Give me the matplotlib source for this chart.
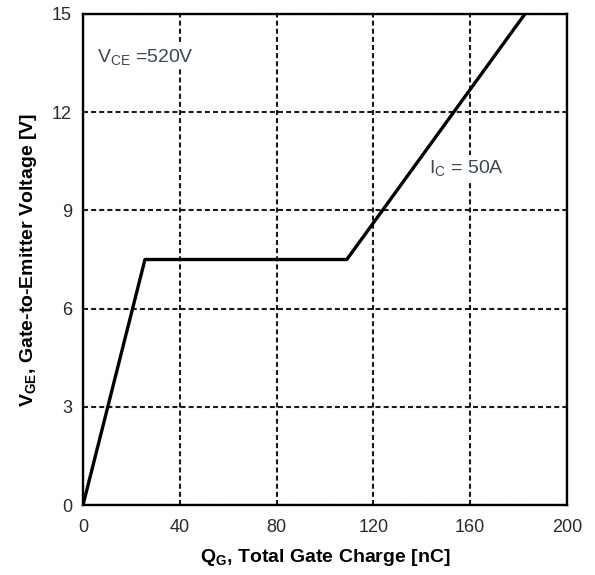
import matplotlib
matplotlib.use('Agg')
import matplotlib.pyplot as plt

# Gate charge curve
qg_nc = [0, 25.6, 109, 182.6]
vge_v = [0, 7.5, 7.5, 15]

x_ticks = [0, 40, 80, 120, 160, 200]
y_ticks = [0, 3, 6, 9, 12, 15]

plt.rcParams['font.family'] = ['Liberation Sans', 'DejaVu Sans']
plt.rcParams['mathtext.fontset'] = 'custom'
plt.rcParams['mathtext.rm'] = 'Liberation Sans'
plt.rcParams['mathtext.it'] = 'Liberation Sans'
plt.rcParams['mathtext.bf'] = 'Liberation Sans:bold'

TEXT_COLOR = '#3b4656'

fig = plt.figure(figsize=(5.95, 5.75), dpi=100)
ax = fig.add_axes([0.1395, 0.1217, 0.8135, 0.854])

ax.plot(qg_nc, vge_v, color='black', linewidth=2.4, zorder=3)

ax.set_xlim(0, 200)
ax.set_ylim(0, 15)
ax.set_xticks(x_ticks)
ax.set_yticks(y_ticks)
ax.tick_params(length=0, labelsize=13, labelcolor='#2a2a2a')
ax.tick_params(axis='x', pad=10)
ax.tick_params(axis='y', pad=8)
ax.grid(True, color='#1a1a1a', linestyle=(0, (2.4, 1.5)), linewidth=1.5)

for sp in ax.spines.values():
    sp.set_linewidth(1.7)

ax.set_xlabel(r'$\mathbf{Q_G}$, Total Gate Charge [nC]', fontsize=14,
              fontweight='bold', labelpad=8)
ax.set_ylabel(r'$\mathbf{V_{GE}}$, Gate-to-Emitter Voltage [V]', fontsize=14,
              fontweight='bold', labelpad=9)

bbox = dict(facecolor='white', edgecolor='none', pad=2)
ax.text(5.8, 13.7, r'V$_{\mathrm{CE}}$ =520V', fontsize=14, color=TEXT_COLOR,
        va='center', ha='left', bbox=bbox, zorder=4)
ax.text(143, 10.3, r'I$_{\mathrm{C}}$ = 50A', fontsize=14, color=TEXT_COLOR,
        va='center', ha='left', bbox=bbox, zorder=4)

fig.savefig('out.png', dpi=100)
